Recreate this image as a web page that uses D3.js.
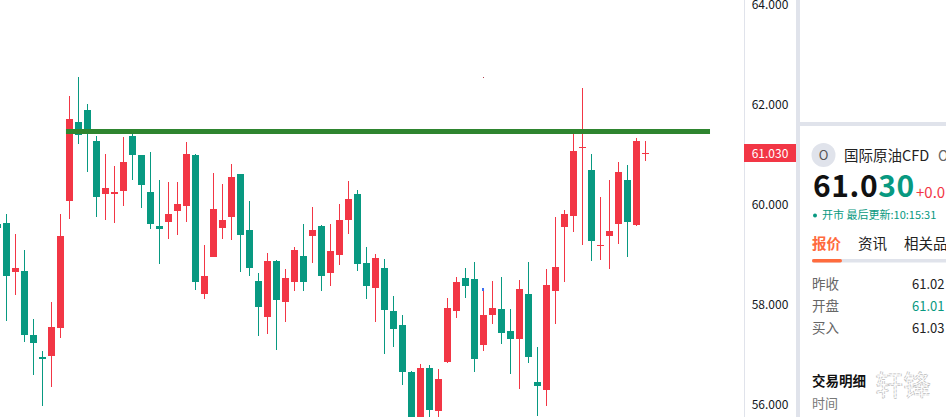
<!DOCTYPE html>
<html>
<head>
<meta charset="utf-8">
<script src="https://cdn.jsdelivr.net/npm/d3@7"></script>
<style>
  html, body { margin: 0; padding: 0; background: #fff; overflow: hidden; }
  text { font-family: "Noto Sans CJK SC", "Noto Sans", sans-serif; }
</style>
</head>
<body>
<div id="chart"></div>
<script>
// candle values, left to right
var opens = [59.60,59.62,58.64,58.66,57.38,56.94,56.96,57.52,60.06,61.64,61.88,61.26,60.20,60.20,60.26,61.36,60.98,60.24,59.56,59.64,59.86,59.96,60.98,58.20,58.94,59.52,59.74,60.60,59.48,58.46,57.74,58.86,58.04,58.44,58.96,59.36,59.56,58.62,58.98,59.68,60.20,58.82,58.32,58.72,57.86,57.58,56.64,55.58,56.72,55.86,56.84,57.86,58.52,58.50,57.18,57.78,57.90,57.46,57.30,58.20,56.44,56.28,58.26,59.54,59.76,61.12,60.68,59.16,59.36,59.60,60.48,59.58,61.00];
var highs = [59.60,59.80,59.40,59.08,57.70,57.06,58.04,59.80,62.16,62.54,62.00,61.36,61.00,60.76,61.34,61.40,60.98,61.04,60.48,60.44,60.44,61.24,61.00,59.18,60.62,60.40,60.80,60.60,60.06,58.62,59.02,58.88,58.70,59.14,59.60,59.94,59.58,59.60,60.00,60.46,60.28,59.14,59.00,58.90,58.16,57.78,56.66,56.80,56.78,56.70,58.12,58.54,58.72,58.84,58.32,58.46,58.54,57.90,58.48,58.84,57.14,58.70,59.74,59.88,61.42,62.32,61.00,60.14,60.48,60.84,60.78,61.32,61.26];
var lows = [59.52,57.66,58.18,57.24,56.58,55.96,56.34,57.32,59.70,61.20,60.64,59.74,59.68,59.62,59.96,60.48,59.92,59.50,58.80,59.30,59.38,59.64,58.28,58.10,58.94,59.30,59.28,58.64,58.56,57.36,57.40,57.08,57.64,58.26,58.26,58.82,58.26,58.36,58.78,59.40,58.66,58.10,57.64,57.00,57.14,56.38,55.48,55.48,55.58,55.58,56.82,57.72,58.12,56.64,57.06,57.60,57.20,56.60,56.30,56.82,55.76,55.96,57.60,58.44,59.44,59.18,58.86,58.88,58.70,59.20,58.94,59.56,60.86];
var closes = [59.52,58.56,58.72,57.38,57.22,56.90,57.54,59.36,61.70,61.38,61.46,60.14,60.32,60.24,60.84,60.98,60.38,59.60,59.50,59.80,60.00,61.00,58.44,58.56,59.90,59.68,60.54,59.38,58.72,57.94,58.86,58.08,58.52,59.08,58.44,59.48,58.56,59.06,59.68,60.10,58.80,58.36,58.92,57.88,57.50,56.64,55.58,56.72,55.88,56.50,57.92,58.44,58.36,56.90,57.78,57.92,57.42,57.30,58.30,56.94,56.36,58.38,58.74,59.80,61.06,61.14,59.26,59.18,59.46,60.64,59.64,61.26,61.02];

var priceTicks = [56, 58, 60, 62, 64];
var resistance = 61.45;
var resistanceFrom = 7.63, resistanceTo = 79.19; // in candle slots
var lastPrice = "61.030";

var quoteRows = [
  {label: "昨收", value: "61.02", color: "#222"},
  {label: "开盘", value: "61.01", color: "#089981"},
  {label: "买入", value: "61.03", color: "#222"}
];
var tabs = ["报价", "资讯", "相关品"];

var width = 946, height = 417;
var up = "#f23645", down = "#089981", rule = "#e0e3eb";

var svg = d3.select("#chart").append("svg")
  .attr("width", width)
  .attr("height", height)
  .style("display", "block");

var x = d3.scaleLinear().domain([0, 72]).range([-2.7, 645.3]);
var y = d3.scaleLinear().domain([56, 64]).range([404, 4]);

var candles = d3.range(opens.length).map(function(i) {
  return {i: i, open: opens[i], high: highs[i], low: lows[i], close: closes[i]};
});
function colour(d) { return d.close >= d.open ? up : down; }

// wicks
svg.append("g").selectAll("rect")
  .data(candles)
  .enter().append("rect")
    .attr("x", function(d) { return Math.round(x(d.i) - 0.5); })
    .attr("width", 1)
    .attr("y", function(d) { return y(d.high); })
    .attr("height", function(d) { return y(d.low) - y(d.high); })
    .style("fill", colour);

// bodies
svg.append("g").selectAll("rect")
  .data(candles)
  .enter().append("rect")
    .attr("x", function(d) { return Math.round(x(d.i) - 0.5) - 3; })
    .attr("width", 7)
    .attr("y", function(d) { return y(Math.max(d.open, d.close)); })
    .attr("height", function(d) { return Math.abs(y(d.open) - y(d.close)); })
    .style("fill", colour);

// hand drawn level
svg.append("line")
  .attr("x1", x(resistanceFrom))
  .attr("x2", x(resistanceTo))
  .attr("y1", y(resistance))
  .attr("y2", y(resistance))
  .style("stroke", "#2e852f")
  .style("stroke-width", 5);

// stray marks on the chart
svg.append("rect").attr("x", 483).attr("y", 77).attr("width", 1).attr("height", 1).style("fill", "#b04050");
svg.append("rect").attr("x", 482).attr("y", 288).attr("width", 2).attr("height", 3).style("fill", "#3d6ff0");

// price axis
svg.append("rect").attr("x", 744).attr("y", 0).attr("width", 1).attr("height", height).style("fill", rule);

var axis = svg.append("g")
  .attr("transform", "translate(770,1)")
  .call(d3.axisRight(y).tickValues(priceTicks).tickSize(0).tickPadding(0).tickFormat(d3.format(".3f")));
axis.select(".domain").remove();
axis.selectAll("text")
  .attr("text-anchor", "middle")
  .style("font-family", '"Noto Sans CJK SC", sans-serif')
  .style("font-size", "12px")
  .style("fill", "#131722");

svg.append("rect").attr("x", 744).attr("y", 144).attr("width", 52).attr("height", 18).style("fill", up);
svg.append("text").attr("x", 770).attr("y", 157.5)
  .attr("text-anchor", "middle")
  .style("font-size", "12px").style("fill", "#fff")
  .text(lastPrice);

// side panel
svg.append("rect").attr("x", 796).attr("y", 0).attr("width", 4).attr("height", height).style("fill", rule);
svg.append("rect").attr("x", 800).attr("y", 122).attr("width", 146).attr("height", 4).style("fill", rule);

svg.append("circle").attr("cx", 823.5).attr("cy", 155).attr("r", 12).style("fill", rule);
svg.append("text").attr("x", 823.5).attr("y", 160).attr("text-anchor", "middle")
  .style("font-size", "13px").style("fill", "#555").text("O");
svg.append("text").attr("x", 844).attr("y", 161)
  .style("font-size", "14.5px").style("fill", "#222").text("国际原油CFD");
svg.append("text").attr("x", 938).attr("y", 161)
  .style("font-size", "14px").style("fill", "#666").text("O");

var big = svg.append("text").attr("x", 813).attr("y", 197)
  .style("font-size", "30px").style("font-weight", 700).style("letter-spacing", "0.6px");
big.append("tspan").style("fill", "#111").text("61.0");
big.append("tspan").style("fill", down).text("30");
svg.append("text").attr("x", 916).attr("y", 198)
  .style("font-size", "15px").style("fill", up).text("+0.01");

svg.append("circle").attr("cx", 815).attr("cy", 215.5).attr("r", 2).style("fill", down);
svg.append("text").attr("x", 822).attr("y", 219)
  .style("font-size", "11px").style("fill", down).text("开市 最后更新:10:15:31");

svg.selectAll(".tab")
  .data(tabs)
  .enter().append("text")
    .attr("class", "tab")
    .attr("x", function(d, i) { return 812 + i * 46; })
    .attr("y", 249)
    .style("font-size", "14.5px")
    .style("font-weight", function(d, i) { return i == 0 ? 700 : 400; })
    .style("fill", function(d, i) { return i == 0 ? "#ff6b3d" : "#222"; })
    .text(function(d) { return d; });

svg.append("rect").attr("x", 812).attr("y", 259).attr("width", 134).attr("height", 3.5).style("fill", rule);
svg.append("rect").attr("x", 812).attr("y", 259).attr("width", 30).attr("height", 3.5).attr("rx", 1.7).style("fill", "#ff6b3d");

var rows = svg.selectAll(".row")
  .data(quoteRows)
  .enter().append("g")
    .attr("class", "row")
    .attr("transform", function(d, i) { return "translate(0," + (289 + i * 22) + ")"; });
rows.append("text").attr("x", 812)
  .style("font-size", "13.5px").style("fill", "#666")
  .text(function(d) { return d.label; });
rows.append("text").attr("x", 912)
  .style("font-size", "13px")
  .style("fill", function(d) { return d.color; })
  .text(function(d) { return d.value; });

svg.append("text").attr("x", 812).attr("y", 386)
  .style("font-size", "13.5px").style("font-weight", 700).style("fill", "#111").text("交易明细");
svg.append("text").attr("x", 812).attr("y", 408)
  .style("font-size", "13px").style("fill", "#777").text("时间");

// watermark
svg.append("text").attr("x", 875).attr("y", 396)
  .style("font-size", "28px")
  .style("fill", "#fff")
  .style("stroke", "#bdbdbd")
  .style("stroke-width", 0.7)
  .style("stroke-dasharray", "3,1")
  .text("轩锋");
</script>
</body>
</html>
